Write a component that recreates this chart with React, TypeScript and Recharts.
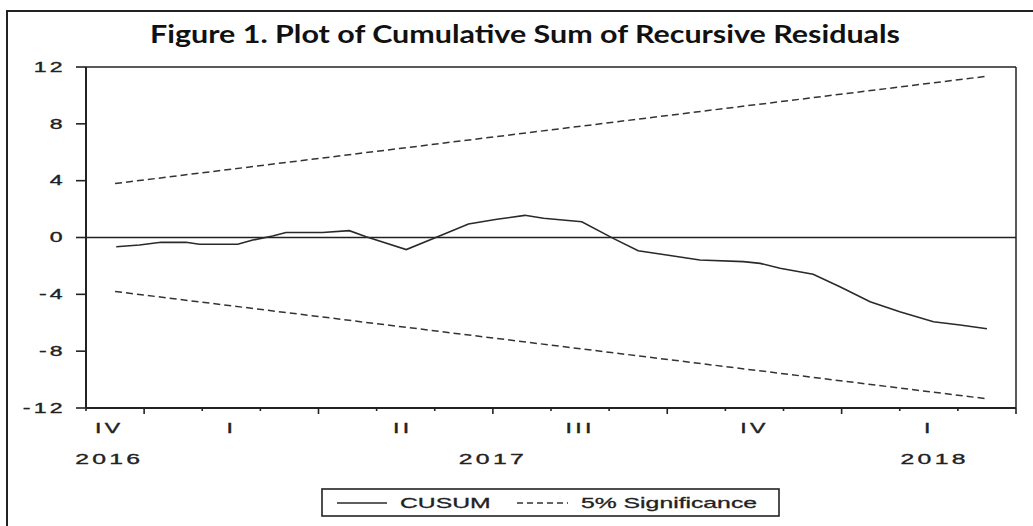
import React from 'react';
import { LineChart, Line, XAxis, YAxis, ReferenceLine } from 'recharts';

// CUSUM path (time in months from Dec 2016 start)
const cusumT = [0.52, 0.92, 1.29, 1.72, 1.95, 2.61, 2.87, 3.21, 3.44, 4.07, 4.53, 4.82, 5.51, 6.06, 6.58, 7.07, 7.55, 7.87, 8.53, 9.07, 9.5, 9.99, 10.56, 11.31, 11.6, 11.94, 12.51, 12.97, 13.49, 14.0, 14.58, 15.04, 15.5];
const cusumV = [-0.65, -0.53, -0.34, -0.34, -0.48, -0.48, -0.18, 0.1, 0.35, 0.35, 0.48, 0.06, -0.85, 0.07, 0.95, 1.28, 1.56, 1.35, 1.11, -0.06, -0.93, -1.23, -1.58, -1.7, -1.82, -2.17, -2.59, -3.46, -4.52, -5.22, -5.93, -6.16, -6.42];

// 5% significance bounds
const boundT = [0.5, 15.5];
const upperV = [3.8, 11.35];
const lowerV = [-3.8, -11.35];

// axis ticks and labels
const yTicks = [-12, -8, -4, 0, 4, 8, 12];
const monthTicks = [0, 1, 2, 3, 4, 5, 6, 7, 8, 9, 10, 11, 12, 13, 14, 15, 16];
const majorTicks = [1, 4, 7, 10, 13, 16];
const quarterPos = [0.4, 2.5, 5.45, 8.5, 11.5, 14.5];
const quarterNames = ['IV', 'I', 'II', 'III', 'IV', 'I'];
const yearPos = [0.4, 7, 14.6];
const yearNames = ['2016', '2017', '2018'];

const cusumData = cusumT.map((t, i) => ({ t, v: cusumV[i] }));
const upperData = boundT.map((t, i) => ({ t, v: upperV[i] }));
const lowerData = boundT.map((t, i) => ({ t, v: lowerV[i] }));
const allTicks = Array.from(new Set([...monthTicks, ...quarterPos, ...yearPos])).sort((a, b) => a - b);

const INK = '#222';
const AX_FONT = "'Liberation Sans', Arial, sans-serif";
const SX = 1.65;

const YTick = (props: any) => {
  const { x, y, payload } = props;
  return (
    <text
      transform={`translate(${x},${y}) scale(${SX},1)`}
      textAnchor="end"
      dominantBaseline="central"
      fontFamily={AX_FONT}
      fontSize={14}
      letterSpacing={2}
      fill={INK}
      stroke={INK}
      strokeWidth={0.35}
    >
      {payload.value}
    </text>
  );
};

const XTick = (props: any) => {
  const { x, y, payload } = props;
  const v = payload.value;
  const parts: any[] = [];
  if (monthTicks.indexOf(v) >= 0) {
    const len = majorTicks.indexOf(v) >= 0 ? 6 : 3;
    parts.push(<line key="t" x1={x} x2={x} y1={y} y2={y + len} stroke={INK} strokeWidth={1.6} />);
  }
  const qi = quarterPos.indexOf(v);
  if (qi >= 0) {
    parts.push(
      <text key="q" transform={`translate(${x},${y + 20}) scale(${SX},1)`} textAnchor="middle" dominantBaseline="central"
        fontFamily={AX_FONT} fontSize={14} letterSpacing={2} fill={INK} stroke={INK} strokeWidth={0.35}>
        {quarterNames[qi]}
      </text>
    );
  }
  const yi = yearPos.indexOf(v);
  if (yi >= 0) {
    parts.push(
      <text key="y" transform={`translate(${x},${y + 51}) scale(${SX},1)`} textAnchor="middle" dominantBaseline="central"
        fontFamily={AX_FONT} fontSize={15} letterSpacing={2} fill={INK} stroke={INK} strokeWidth={0.35}>
        {yearNames[yi]}
      </text>
    );
  }
  return <g>{parts}</g>;
};

export default function App() {
  return (
    <div style={{ position: 'absolute', left: 0, top: 0, width: 1033, height: 526, background: '#fff', overflow: 'hidden' }}>
      <div style={{ position: 'absolute', left: 6, top: 10, width: 1100, height: 600, borderLeft: `2px solid ${INK}`, borderTop: `2px solid ${INK}` }} />
      <div style={{ position: 'absolute', left: 0, top: 0 }}>
        <LineChart width={1033} height={526} margin={{ top: 67, right: 17, bottom: 58, left: 0 }}>
          <XAxis
            type="number"
            dataKey="t"
            domain={[0, 16]}
            ticks={allTicks}
            interval={0}
            tickLine={false}
            tickSize={0}
            tickMargin={0}
            tick={<XTick />}
            height={60}
            axisLine={{ stroke: INK, strokeWidth: 2 }}
            allowDataOverflow
          />
          <YAxis
            type="number"
            domain={[-12, 12]}
            ticks={yTicks}
            interval={0}
            width={86}
            tickSize={10}
            tickMargin={10}
            tick={<YTick />}
            tickLine={{ stroke: INK, strokeWidth: 1.6 }}
            axisLine={{ stroke: INK, strokeWidth: 2 }}
          />
          <ReferenceLine y={12} stroke={INK} strokeWidth={1.5} />
          <ReferenceLine x={16} stroke={INK} strokeWidth={1.5} />
          <ReferenceLine y={0} stroke={INK} strokeWidth={1.4} />
          <Line data={upperData} dataKey="v" type="linear" stroke="#333" strokeWidth={1.5} strokeDasharray="7 4" dot={false} isAnimationActive={false} />
          <Line data={lowerData} dataKey="v" type="linear" stroke="#333" strokeWidth={1.5} strokeDasharray="7 4" dot={false} isAnimationActive={false} />
          <Line data={cusumData} dataKey="v" type="linear" stroke="#2a2a2a" strokeWidth={1.6} dot={false} isAnimationActive={false} />
        </LineChart>
      </div>
      <svg width={1033} height={526} style={{ position: 'absolute', left: 0, top: 0, pointerEvents: 'none' }}>
        <text x={525} y={43} textAnchor="middle" fontFamily="Lato, 'Open Sans', sans-serif" fontWeight={700} fontSize={25}
          textLength={750} lengthAdjust="spacingAndGlyphs" fill="#111">
          Figure 1. Plot of Cumulative Sum of Recursive Residuals
        </text>
        <rect x={322} y={489} width={457} height={27} fill="#fff" stroke={INK} strokeWidth={1.6} />
        <line x1={337} x2={387} y1={503} y2={503} stroke="#2a2a2a" strokeWidth={1.5} />
        <text transform={`translate(400,503) scale(${SX},1)`} dominantBaseline="central" fontFamily={AX_FONT} fontSize={15} fill={INK} stroke={INK} strokeWidth={0.3}>CUSUM</text>
        <line x1={517} x2={568} y1={503} y2={503} stroke="#333" strokeWidth={1.5} strokeDasharray="6 4" />
        <text transform={`translate(581,503) scale(${SX},1)`} dominantBaseline="central" fontFamily={AX_FONT} fontSize={15} fill={INK} stroke={INK} strokeWidth={0.3}>5% Significance</text>
      </svg>
    </div>
  );
}
